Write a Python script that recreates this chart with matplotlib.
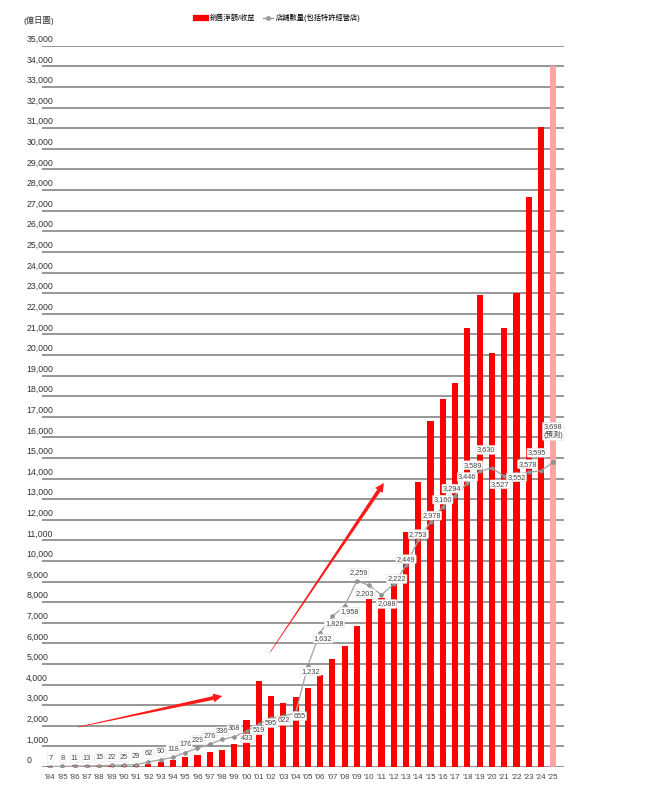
import numpy as np
import matplotlib
matplotlib.use("Agg")
import matplotlib.pyplot as plt
from matplotlib.lines import Line2D
from matplotlib.patches import Polygon
from matplotlib.transforms import ScaledTranslation, IdentityTransform

plt.rcParams['font.family'] = ['Liberation Sans', 'Noto Sans CJK TC', 'DejaVu Sans']

years = ["'84", "'85", "'86", "'87", "'88", "'89", "'90", "'91", "'92", "'93",
         "'94", "'95", "'96", "'97", "'98", "'99", "'00", "'01", "'02", "'03",
         "'04", "'05", "'06", "'07", "'08", "'09", "'10", "'11", "'12", "'13",
         "'14", "'15", "'16", "'17", "'18", "'19", "'20", "'21", "'22", "'23",
         "'24", "'25"]

# 銷售淨額/收益 (億日圓)
sales = [60, 70, 80, 90, 100, 110, 120, 140, 150, 250,
         333, 487, 600, 750, 831, 1110, 2290, 4186, 3442, 3097,
         3399, 3839, 4488, 5252, 5865, 6850, 8148, 8203, 9286, 11430,
         13829, 16817, 17864, 18619, 21300, 22905, 20088, 21329, 23011, 27665,
         31038, 34000]

# 店舖數量(包括特許經營店)
stores = [7, 8, 11, 13, 15, 22, 25, 29, 62, 90,
          118, 176, 229, 276, 336, 368, 433, 519, 595, 622,
          655, 1232, 1632, 1828, 1958, 2259, 2203, 2088, 2222, 2449,
          2753, 2978, 3160, 3294, 3446, 3589, 3630, 3527, 3552, 3578,
          3595, 3698]

store_labels = [f"{v:,}" for v in stores]
store_labels[-1] = "3,698\n(預測)"

y_ticks = list(range(0, 35001, 1000))

# label offsets in pixels (dx, dy)
label_offsets = [(0, 8)] * 16 + [
    (1, -7), (0, -6), (0, -5), (0, -5), (4, -3), (3, -6), (3, -6), (2, -7),
    (5, -6), (2, 8), (-4, -8), (5, -9), (3, 5), (0, 6), (0, 6), (1, 6),
    (0, 7), (-3, 7), (0, 6), (-7, 6), (-6, 18), (-4, -8), (0, -3), (-1, 8),
    (-4, 18), (0, 31)]

fig = plt.figure(figsize=(6.6, 7.9), dpi=100)
ax = fig.add_axes([0.064, 0.029, 0.791, 0.913])

x = np.arange(len(years))
colors = ['#ff0000'] * (len(years) - 1) + ['#ffa3a3']
ax.bar(x, sales, width=0.5, color=colors, zorder=3)

ax.set_xlim(-0.65, len(years) - 1 + 0.9)
ax.set_ylim(0, 35000)
ax.set_yticks(y_ticks)
ax.set_yticklabels([f"{v:,}" for v in y_ticks], fontsize=6.3, color='#333333')
ax.set_xticks(x)
ax.set_xticklabels(years, fontsize=5.8, color='#444444')
ax.tick_params(axis='both', length=0)
ax.tick_params(axis='y', pad=0)
ax.tick_params(axis='x', pad=5)
shift = ScaledTranslation(-0.16, 0.02, fig.dpi_scale_trans)
for lab in ax.get_yticklabels():
    lab.set_horizontalalignment('left')
    lab.set_verticalalignment('bottom')
    lab.set_transform(lab.get_transform() + shift)

ax.set_axisbelow(True)
ax.grid(axis='y', color='#858585', linewidth=1.2)
for s in ax.spines.values():
    s.set_visible(False)

ax2 = ax.twinx()
ax2.set_ylim(0, 8750)
ax2.axis('off')
ax2.plot(x, stores, color='#a8a8a8', linewidth=1, marker='o', markersize=2.6,
         markerfacecolor='#9a9a9a', markeredgecolor='#7a7a7a',
         markeredgewidth=0.5, zorder=4)
for xi, v, lab, (dx, dy) in zip(x, stores, store_labels, label_offsets):
    ax2.annotate(lab, (xi, v), xytext=(dx, dy), textcoords='offset pixels',
                 ha='center', va='center', fontsize=5.3, color='#444444',
                 linespacing=1.2, zorder=5,
                 bbox=dict(boxstyle='round,pad=0.12', fc='white',
                           ec='#e0e0e0', lw=0.4))


def tapered_arrow(start, end, color='#ff1a1a', shaft=3.8, head_w=9, head_l=9):
    p0 = ax.transData.transform(start)
    p1 = ax.transData.transform(end)
    d = p1 - p0
    L = np.hypot(*d)
    u = d / L
    n = np.array([-u[1], u[0]])
    base = p1 - u * head_l
    pts = [p0 + n * 0.3, base + n * shaft / 2, base + n * head_w / 2, p1,
           base - n * head_w / 2, base - n * shaft / 2, p0 - n * 0.3]
    fig.add_artist(Polygon(pts, closed=True, facecolor=color, edgecolor='none',
                           transform=IdentityTransform(), zorder=6))


tapered_arrow((2.28, 1942), (14.02, 3447))
tapered_arrow((17.93, 5583), (27.2, 13788))

handles = [Line2D([], [], color='#ff0000', linewidth=4.5),
           Line2D([], [], color='#9a9a9a', linewidth=1, marker='o', markersize=2.5)]
fig.legend(handles, ['銷售淨額/收益', '店舖數量(包括特許經營店)'],
           loc='center', bbox_to_anchor=(0.422, 0.977), ncol=2, frameon=False,
           fontsize=5.2, handlelength=1.4, columnspacing=1.0, handletextpad=0.5)
fig.text(0.036, 0.974, '(億日圓)', fontsize=6, color='#333333', va='center')

fig.savefig('out.png', dpi=100)
